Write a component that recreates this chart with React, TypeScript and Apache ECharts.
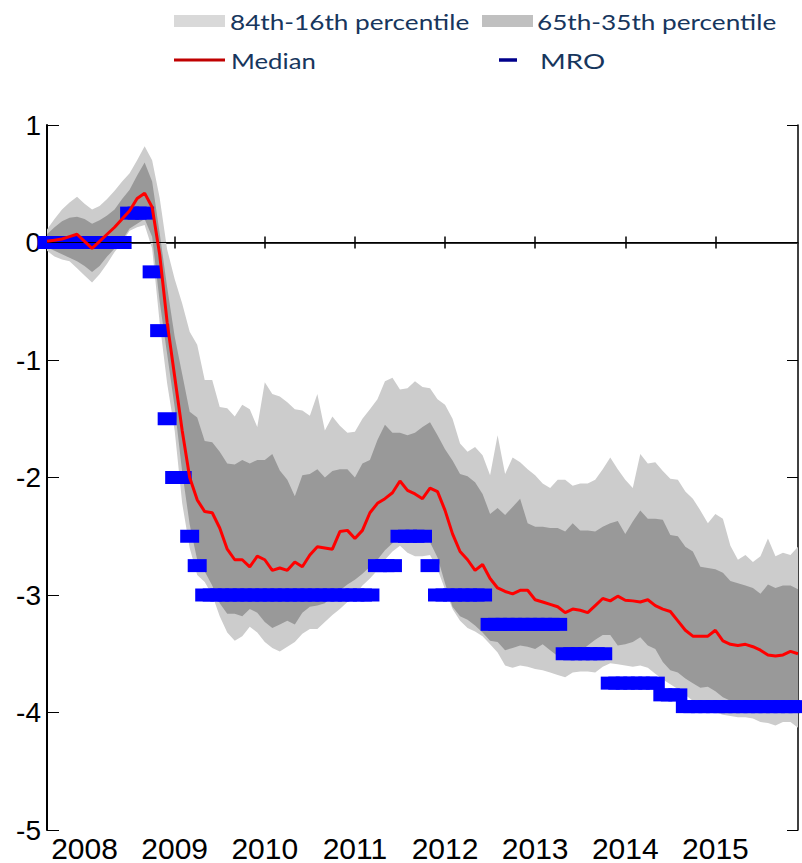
import React, { useEffect, useRef } from "react";
import * as echarts from "echarts";

// Monthly observations, Aug 2007 .. Dec 2015
const START_YEAR = 2007;
const START_MONTH = 8;
const N_MONTHS = 101;
const months: string[] = [];
for (let k = 0; k < N_MONTHS; k++) {
  const m0 = START_MONTH - 1 + k;
  const y = START_YEAR + Math.floor(m0 / 12);
  const m = (m0 % 12) + 1;
  months.push(`${y}-${m < 10 ? "0" + m : m}`);
}

const yTicks = [-5, -4, -3, -2, -1, 0, 1];

const median = [
  0.01, 0.02, 0.03, 0.05, 0.07, 0.01, -0.05, 0.01, 0.07, 0.13, 0.2, 0.27, 0.375, 0.42,
  0.3, -0.1, -0.68, -1.14, -1.6, -2.0, -2.19, -2.29, -2.3, -2.43, -2.61, -2.7, -2.7, -2.76,
  -2.67, -2.7, -2.79, -2.77, -2.79, -2.72, -2.76, -2.66, -2.59, -2.6, -2.61, -2.46, -2.45,
  -2.52, -2.45, -2.3, -2.22, -2.18, -2.13, -2.03, -2.11, -2.14, -2.18, -2.09, -2.12, -2.28,
  -2.48, -2.63, -2.7, -2.79, -2.74, -2.86, -2.94, -2.97, -2.99, -2.96, -2.96, -3.04, -3.06,
  -3.08, -3.1, -3.15, -3.12, -3.13, -3.15, -3.09, -3.03, -3.05, -3.01, -3.045, -3.05, -3.06,
  -3.04, -3.09, -3.12, -3.14, -3.22, -3.3, -3.35, -3.35, -3.35, -3.3, -3.39, -3.42, -3.43,
  -3.42, -3.44, -3.47, -3.51, -3.52, -3.51, -3.48, -3.5,
];

const p84 = [
  0.11, 0.2, 0.28, 0.34, 0.39, 0.33, 0.28, 0.31, 0.37, 0.44, 0.52, 0.59, 0.7, 0.82,
  0.7, 0.38, -0.06, -0.31, -0.52, -0.76, -0.87, -1.17, -1.17, -1.4, -1.41, -1.48, -1.38,
  -1.42, -1.57, -1.19, -1.29, -1.31, -1.36, -1.42, -1.43, -1.475, -1.29, -1.6, -1.48, -1.56,
  -1.62, -1.61, -1.5, -1.42, -1.335, -1.18, -1.15, -1.25, -1.24, -1.18, -1.23, -1.24, -1.335,
  -1.38, -1.5, -1.71, -1.78, -1.74, -1.81, -1.98, -1.64, -1.97, -1.83, -1.87, -1.93, -1.98,
  -2.05, -2.09, -2.02, -2.02, -2.07, -2.05, -2.05, -2.02, -1.93, -1.83, -1.93, -2.02, -2.09,
  -1.8, -1.88, -1.87, -1.945, -2.01, -2.02, -2.12, -2.18, -2.28, -2.39, -2.31, -2.35, -2.58,
  -2.7, -2.66, -2.72, -2.67, -2.52, -2.67, -2.64, -2.66, -2.59,
];

const p65 = [
  0.07, 0.13, 0.18, 0.21, 0.22, 0.2, 0.16, 0.19, 0.23, 0.28, 0.37, 0.45, 0.57, 0.68,
  0.52, 0.08, -0.38, -0.8, -1.12, -1.44, -1.49, -1.69, -1.7, -1.78, -1.88, -1.89, -1.85,
  -1.88, -1.85, -1.85, -1.8, -1.94, -2.02, -2.16, -1.98, -1.97, -1.93, -2.0, -1.945, -1.93,
  -1.93, -2.0, -1.88, -1.85, -1.68, -1.55, -1.62, -1.62, -1.64, -1.62, -1.57, -1.53, -1.64,
  -1.76, -1.855, -1.97, -1.99, -2.04, -2.14, -2.31, -2.26, -2.32, -2.25, -2.18, -2.39, -2.42,
  -2.42, -2.43, -2.43, -2.46, -2.39, -2.45, -2.45, -2.46, -2.42, -2.39, -2.37, -2.48, -2.375,
  -2.28, -2.35, -2.35, -2.36, -2.49, -2.5, -2.59, -2.63, -2.76, -2.77, -2.78, -2.81, -2.88,
  -2.9, -2.92, -2.94, -2.99, -2.91, -2.94, -2.92, -2.92, -2.95,
];

const p35 = [
  -0.04, -0.07, -0.1, -0.13, -0.16, -0.2, -0.25, -0.2, -0.12, -0.05, 0.02, 0.12, 0.16, 0.2,
  0.05, -0.5, -0.95, -1.4, -1.95, -2.4, -2.7, -2.8, -2.92, -3.07, -3.16, -3.16, -3.18,
  -3.12, -3.15, -3.23, -3.28, -3.25, -3.22, -3.25, -3.15, -3.1, -3.09, -3.07, -3.0, -2.96,
  -2.91, -2.87, -2.82, -2.76, -2.7, -2.62, -2.56, -2.5, -2.53, -2.55, -2.55, -2.55, -2.68,
  -2.9, -3.1, -3.18, -3.21, -3.26, -3.32, -3.39, -3.4, -3.47, -3.45, -3.43, -3.44, -3.46,
  -3.42, -3.47, -3.52, -3.55, -3.53, -3.48, -3.43, -3.38, -3.34, -3.34, -3.43, -3.42, -3.4,
  -3.36, -3.43, -3.46, -3.57, -3.64, -3.66, -3.71, -3.75, -3.79, -3.78, -3.82, -3.87, -3.9,
  -3.91, -3.92, -3.9, -3.93, -3.92, -3.91, -3.93, -3.92, -3.93,
];

const p16 = [
  -0.07, -0.12, -0.145, -0.16, -0.22, -0.28, -0.34, -0.27, -0.18, -0.08, 0.0, 0.1, 0.13, 0.15,
  -0.05, -0.68, -1.2, -1.6, -2.22, -2.6, -2.83, -2.89, -3.0, -3.18, -3.32, -3.39, -3.35,
  -3.27, -3.32, -3.4, -3.45, -3.48, -3.44, -3.4, -3.33, -3.29, -3.29, -3.23, -3.17, -3.12,
  -3.06, -3.0, -2.92, -2.86, -2.79, -2.7, -2.63, -2.58, -2.64, -2.67, -2.67, -2.66, -2.78,
  -2.95, -3.12, -3.22, -3.28, -3.31, -3.35, -3.42, -3.49, -3.6, -3.62, -3.6, -3.61, -3.63,
  -3.64, -3.66, -3.68, -3.7, -3.66, -3.65, -3.65, -3.66, -3.61, -3.58, -3.59, -3.6, -3.61,
  -3.6, -3.62, -3.67, -3.72, -3.76, -3.8, -3.85, -3.9, -3.95, -3.98, -4.0, -4.02, -4.03,
  -4.04, -4.04, -4.05, -4.08, -4.09, -4.11, -4.08, -4.08, -4.13,
];

// MRO rate, change relative to 4% (monthly)
const mro = [
  0, 0, 0, 0, 0, 0, 0, 0, 0, 0, 0,
  0.25, 0.25, 0.25,
  -0.25, -0.75, -1.5, -2.0, -2.0, -2.5, -2.75,
  -3, -3, -3, -3, -3, -3, -3, -3, -3, -3, -3, -3, -3, -3, -3, -3, -3, -3, -3, -3, -3, -3, -3,
  -2.75, -2.75, -2.75,
  -2.5, -2.5, -2.5, -2.5,
  -2.75,
  -3, -3, -3, -3, -3, -3, -3,
  -3.25, -3.25, -3.25, -3.25, -3.25, -3.25, -3.25, -3.25, -3.25, -3.25,
  -3.5, -3.5, -3.5, -3.5, -3.5, -3.5,
  -3.75, -3.75, -3.75, -3.75, -3.75, -3.75, -3.75,
  -3.85, -3.85, -3.85,
  -3.95, -3.95, -3.95, -3.95, -3.95, -3.95, -3.95, -3.95, -3.95, -3.95, -3.95, -3.95, -3.95,
  -3.95, -3.95, -3.95,
];

const legendLabels = ["84th-16th percentile", "65th-35th percentile", "Median", "MRO"];

const LIGHT = "#CCCCCC";
const DARK = "#999999";
const TEXT_BLUE = "#17365D";

export default function App() {
  const ref = useRef<HTMLDivElement>(null);

  useEffect(() => {
    if (!ref.current) return;
    const chart = echarts.init(ref.current, undefined, { renderer: "svg" });
    const isJan = (_i: number, v: string) => String(v).endsWith("-01");
    const outerDiff = p84.map((v, i) => +(v - p16[i]).toFixed(4));
    const innerDiff = p65.map((v, i) => +(v - p35[i]).toFixed(4));
    const labelFont = { fontSize: 30, color: "#000", fontFamily: "Liberation Sans, Arial, sans-serif" };
    const legendText = (x: number, y: number, text: string, sx: number) => ({
      type: "text",
      x,
      y,
      scaleX: sx,
      style: {
        text,
        fill: TEXT_BLUE,
        fontSize: 22,
        fontFamily: "Lato, Open Sans, sans-serif",
        textVerticalAlign: "middle",
        textAlign: "left",
      },
    });

    chart.setOption({
      animation: false,
      backgroundColor: "#fff",
      grid: { left: 47, top: 125, width: 751, height: 711, containLabel: false },
      xAxis: [
        {
          type: "category",
          data: months,
          boundaryGap: false,
          position: "bottom",
          axisLine: { show: true, lineStyle: { color: "#000", width: 2 } },
          axisTick: { show: true, inside: true, length: 6, interval: isJan, lineStyle: { color: "#000", width: 1.5 } },
          axisLabel: {
            show: true,
            interval: isJan,
            formatter: (v: string) => v.slice(0, 4),
            margin: 3,
            ...labelFont,
          },
          splitLine: { show: false },
        },
        {
          type: "category",
          data: months,
          boundaryGap: false,
          position: "top",
          axisLine: { show: true, lineStyle: { color: "#333", width: 2 } },
          axisTick: { show: true, inside: true, length: 6, interval: isJan, lineStyle: { color: "#000", width: 1.5 } },
          axisLabel: { show: false },
          splitLine: { show: false },
        },
      ],
      yAxis: [
        {
          type: "value",
          min: yTicks[0],
          max: yTicks[yTicks.length - 1],
          interval: 1,
          position: "left",
          axisLine: { show: true, lineStyle: { color: "#000", width: 2 } },
          axisTick: { show: true, inside: true, length: 12, lineStyle: { color: "#000", width: 1 } },
          axisLabel: { show: true, margin: 6, formatter: (v: number) => String(v), ...labelFont, fontSize: 28 },
          splitLine: { show: false },
        },
        {
          type: "value",
          min: yTicks[0],
          max: yTicks[yTicks.length - 1],
          interval: 1,
          position: "right",
          axisLine: { show: true, lineStyle: { color: "#000", width: 1.5 } },
          axisTick: { show: true, inside: true, length: 11, lineStyle: { color: "#000", width: 1 } },
          axisLabel: { show: false },
          splitLine: { show: false },
        },
      ],
      graphic: [
        { type: "rect", shape: { x: 174, y: 15, width: 51, height: 12 }, style: { fill: "#D9D9D9" } },
        legendText(230, 21, legendLabels[0], 1.19),
        { type: "rect", shape: { x: 482, y: 15, width: 51, height: 12 }, style: { fill: "#C0C0C0" } },
        legendText(537, 21, legendLabels[1], 1.19),
        { type: "line", shape: { x1: 174, y1: 60, x2: 225, y2: 60 }, style: { stroke: "#C00000", lineWidth: 3 } },
        legendText(231, 60, legendLabels[2], 1.17),
        { type: "line", shape: { x1: 499, y1: 60, x2: 517, y2: 60 }, style: { stroke: "#00008B", lineWidth: 3.5 } },
        legendText(540, 60, legendLabels[3], 1.26),
      ],
      series: [
        {
          name: "p16",
          type: "line",
          data: p16,
          stack: "outer",
          stackStrategy: "all",
          symbol: "none",
          silent: true,
          lineStyle: { width: 0, opacity: 0 },
          z: 1,
        },
        {
          name: legendLabels[0],
          type: "line",
          data: outerDiff,
          stack: "outer",
          stackStrategy: "all",
          symbol: "none",
          silent: true,
          lineStyle: { width: 0, opacity: 0 },
          areaStyle: { color: LIGHT, opacity: 1 },
          z: 1,
        },
        {
          name: "p35",
          type: "line",
          data: p35,
          stack: "inner",
          stackStrategy: "all",
          symbol: "none",
          silent: true,
          lineStyle: { width: 0, opacity: 0 },
          z: 1,
        },
        {
          name: legendLabels[1],
          type: "line",
          data: innerDiff,
          stack: "inner",
          stackStrategy: "all",
          symbol: "none",
          silent: true,
          lineStyle: { width: 0, opacity: 0 },
          areaStyle: { color: DARK, opacity: 1 },
          z: 1,
        },
        {
          name: legendLabels[3],
          type: "scatter",
          data: mro,
          symbol: "rect",
          symbolSize: [19, 13],
          itemStyle: { color: "#0000FF", opacity: 1 },
          silent: true,
          z: 2,
          markLine: {
            silent: true,
            symbol: "none",
            label: { show: false },
            lineStyle: { color: "#000", width: 1, type: "solid" },
            data: [{ yAxis: 0 }],
            z: 3,
          },
        },
        {
          name: legendLabels[2],
          type: "line",
          data: median,
          symbol: "none",
          silent: true,
          lineStyle: { color: "#FF0000", width: 3 },
          z: 6,
        },
      ],
    });
    return () => chart.dispose();
  }, []);

  return (
    <div
      ref={ref}
      style={{ position: "absolute", left: 0, top: 0, width: 802, height: 863, background: "#fff" }}
    />
  );
}
